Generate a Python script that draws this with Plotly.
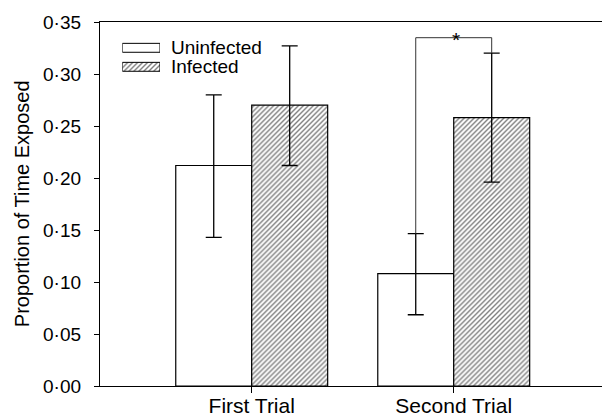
import plotly.graph_objects as go

# ---- data ----
categories = ["First Trial", "Second Trial"]
uninfected = [0.212, 0.108]
uninfected_err_plus = [0.068, 0.0385]
uninfected_err_minus = [0.069, 0.0395]
infected = [0.270, 0.258]
infected_err_plus = [0.057, 0.062]
infected_err_minus = [0.058, 0.062]
y_ticks = [0.00, 0.05, 0.10, 0.15, 0.20, 0.25, 0.30, 0.35]
y_tick_labels = ["0·00", "0·05", "0·10", "0·15", "0·20", "0·25", "0·30", "0·35"]
series_names = ["Uninfected", "Infected"]
signif_label = "*"

FONT = "Liberation Sans, Arial, Helvetica, sans-serif"
BARGAP = 0.248
half_offset = (1 - BARGAP) / 4  # centre offset of each bar within a group
xpos = list(range(len(categories)))
HATCH = dict(shape="/", fgcolor="black", bgcolor="white", size=3.5, solidity=0.4)

fig = go.Figure()

fig.add_trace(go.Bar(
    x=xpos, y=uninfected, name=series_names[0],
    marker=dict(color="white", line=dict(color="black", width=1.2)),
    error_y=dict(type="data", array=uninfected_err_plus, arrayminus=uninfected_err_minus,
                 color="black", thickness=1.3, width=8),
    showlegend=False,
))
fig.add_trace(go.Bar(
    x=xpos, y=infected, name=series_names[1],
    marker=dict(color="white", line=dict(color="black", width=1.2), pattern=HATCH),
    error_y=dict(type="data", array=infected_err_plus, arrayminus=infected_err_minus,
                 color="black", thickness=1.3, width=8),
    showlegend=False,
))

# custom legend swatches (wide rectangles) on a small helper axis
fig.add_trace(go.Bar(
    x=[1], y=[1], orientation="h", xaxis="x2", yaxis="y2", width=0.47,
    marker=dict(color="white", line=dict(color="black", width=1)),
    showlegend=False, hoverinfo="skip",
))
fig.add_trace(go.Bar(
    x=[1], y=[0], orientation="h", xaxis="x2", yaxis="y2", width=0.47,
    marker=dict(color="white", line=dict(color="black", width=1), pattern=HATCH),
    showlegend=False, hoverinfo="skip",
))

# significance bracket between second-trial bars
i = 1
left_x = xpos[i] - half_offset
right_x = xpos[i] + half_offset
bracket_y = 0.3349
left_bottom = uninfected[i] + uninfected_err_plus[i]
right_bottom = infected[i] + infected_err_plus[i]
fig.add_shape(type="path",
              path=f"M {left_x} {left_bottom} L {left_x} {bracket_y} L {right_x} {bracket_y} L {right_x} {right_bottom}",
              xref="x", yref="y", line=dict(color="#333333", width=1))
fig.add_annotation(x=(left_x + right_x) / 2 + 0.01, y=bracket_y, xref="x", yref="y",
                   text=signif_label, showarrow=False, font=dict(family=FONT, size=21, color="black"),
                   yanchor="middle", yshift=-2)

# legend text
for name, yp in zip(series_names, [0.9291, 0.8769]):
    fig.add_annotation(x=0.1374, y=yp, xref="paper", yref="paper", text=name, showarrow=False,
                       xanchor="left", yanchor="middle", font=dict(family=FONT, size=19, color="black"))

# y axis title
fig.add_annotation(x=-0.155, y=0.5, xref="paper", yref="paper", text="Proportion of Time Exposed",
                   textangle=-90, showarrow=False, xanchor="center", yanchor="middle",
                   font=dict(family=FONT, size=20, color="black"))

fig.update_layout(
    width=602, height=419,
    margin=dict(l=100, r=0, t=22, b=33, autoexpand=False),
    paper_bgcolor="white", plot_bgcolor="white",
    barmode="group", bargap=BARGAP, bargroupgap=0,
    font=dict(family=FONT, color="black"),
    xaxis=dict(range=[-0.751, 1.734], tickmode="array", tickvals=xpos, ticktext=categories,
               ticks="outside", ticklen=6, tickcolor="black", tickwidth=1, automargin=False,
               showline=True, linecolor="black", linewidth=1.3, mirror=True,
               ticklabelstandoff=-5,
               showgrid=False, zeroline=False, tickfont=dict(family=FONT, size=21, color="black")),
    yaxis=dict(range=[0, 0.35], tickmode="array", tickvals=y_ticks, ticktext=y_tick_labels,
               ticks="outside", ticklen=5, tickcolor="black", tickwidth=1, automargin=False,
               showline=True, linecolor="black", linewidth=1.3,
               showgrid=False, zeroline=False, ticklabelstandoff=9,
               tickfont=dict(family=FONT, size=19, color="black")),
    xaxis2=dict(domain=[0.0444, 0.1195], range=[0, 1], visible=False, anchor="y2"),
    yaxis2=dict(domain=[0.8508, 0.9552], range=[-0.5, 1.5], visible=False, anchor="x2"),
)

fig.write_html("out.html", config={"displayModeBar": False},
               post_script="document.body.style.margin='0';document.body.style.overflow='hidden';")
